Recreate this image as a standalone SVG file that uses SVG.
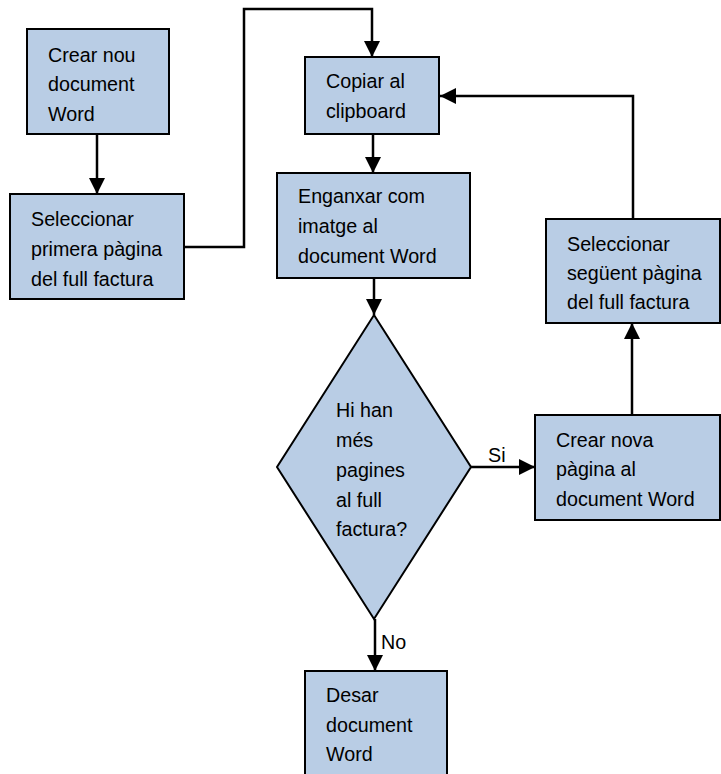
<svg xmlns="http://www.w3.org/2000/svg" width="721" height="774" viewBox="0 0 721 774">
<style>
.box{fill:#b9cde5;stroke:#000;stroke-width:2}
.t{font-family:"Liberation Sans",Arial,sans-serif;font-size:19.7px;fill:#000}
.c{fill:none;stroke:#000;stroke-width:2.5}
</style>
<defs>
<marker id="ah" markerUnits="userSpaceOnUse" markerWidth="16" markerHeight="16" refX="16" refY="8" orient="auto" viewBox="0 0 16 16">
<path d="M0,0 L16,8 L0,16 z" fill="#000"/>
</marker>
</defs>
<rect width="721" height="774" fill="#fff"/>
<g id="connectors">
<path class="c" d="M97,134 V194" marker-end="url(#ah)"/>
<path class="c" d="M184,247 H244 V9 H372 V57" marker-end="url(#ah)"/>
<path class="c" d="M373,134 V173" marker-end="url(#ah)"/>
<path class="c" d="M374,278 V315" marker-end="url(#ah)"/>
<path class="c" d="M471,467 H535" marker-end="url(#ah)"/>
<path class="c" d="M632,415 V323" marker-end="url(#ah)"/>
<path class="c" d="M633,219 V96 H440" marker-end="url(#ah)"/>
<path class="c" d="M375,619 V671" marker-end="url(#ah)"/>
<text class="t" x="488" y="462">Si</text>
<text class="t" x="381" y="649">No</text>
</g>
<g id="n1">
<rect class="box" x="27" y="29" width="142" height="105"/>
<text class="t" x="48" y="62">Crear nou</text>
<text class="t" x="48" y="91">document</text>
<text class="t" x="48" y="121">Word</text>
</g>
<g id="n2">
<rect class="box" x="10" y="194" width="174" height="105"/>
<text class="t" x="31" y="226">Seleccionar</text>
<text class="t" x="31" y="256">primera pàgina</text>
<text class="t" x="31" y="286">del full factura</text>
</g>
<g id="n3">
<rect class="box" x="305" y="57" width="134" height="77"/>
<text class="t" x="326" y="88">Copiar al</text>
<text class="t" x="326" y="118">clipboard</text>
</g>
<g id="n4">
<rect class="box" x="277" y="173" width="193" height="105"/>
<text class="t" x="298" y="203">Enganxar com</text>
<text class="t" x="298" y="233">imatge al</text>
<text class="t" x="298" y="263">document Word</text>
</g>
<g id="n5">
<polygon class="box" points="374,315 471,467 374,619 277,467"/>
<text class="t" x="336" y="417">Hi han</text>
<text class="t" x="336" y="447">més</text>
<text class="t" x="336" y="477">pagines</text>
<text class="t" x="336" y="507">al full</text>
<text class="t" x="336" y="536">factura?</text>
</g>
<g id="n6">
<rect class="box" x="535" y="415" width="185" height="105"/>
<text class="t" x="556" y="447">Crear nova</text>
<text class="t" x="556" y="476">pàgina al</text>
<text class="t" x="556" y="506">document Word</text>
</g>
<g id="n7">
<rect class="box" x="546" y="219" width="174" height="104"/>
<text class="t" x="567" y="251">Seleccionar</text>
<text class="t" x="567" y="280">següent pàgina</text>
<text class="t" x="567" y="309">del full factura</text>
</g>
<g id="n8">
<rect class="box" x="305" y="671" width="142" height="110"/>
<text class="t" x="326" y="702">Desar</text>
<text class="t" x="326" y="732">document</text>
<text class="t" x="326" y="761">Word</text>
</g>
</svg>
